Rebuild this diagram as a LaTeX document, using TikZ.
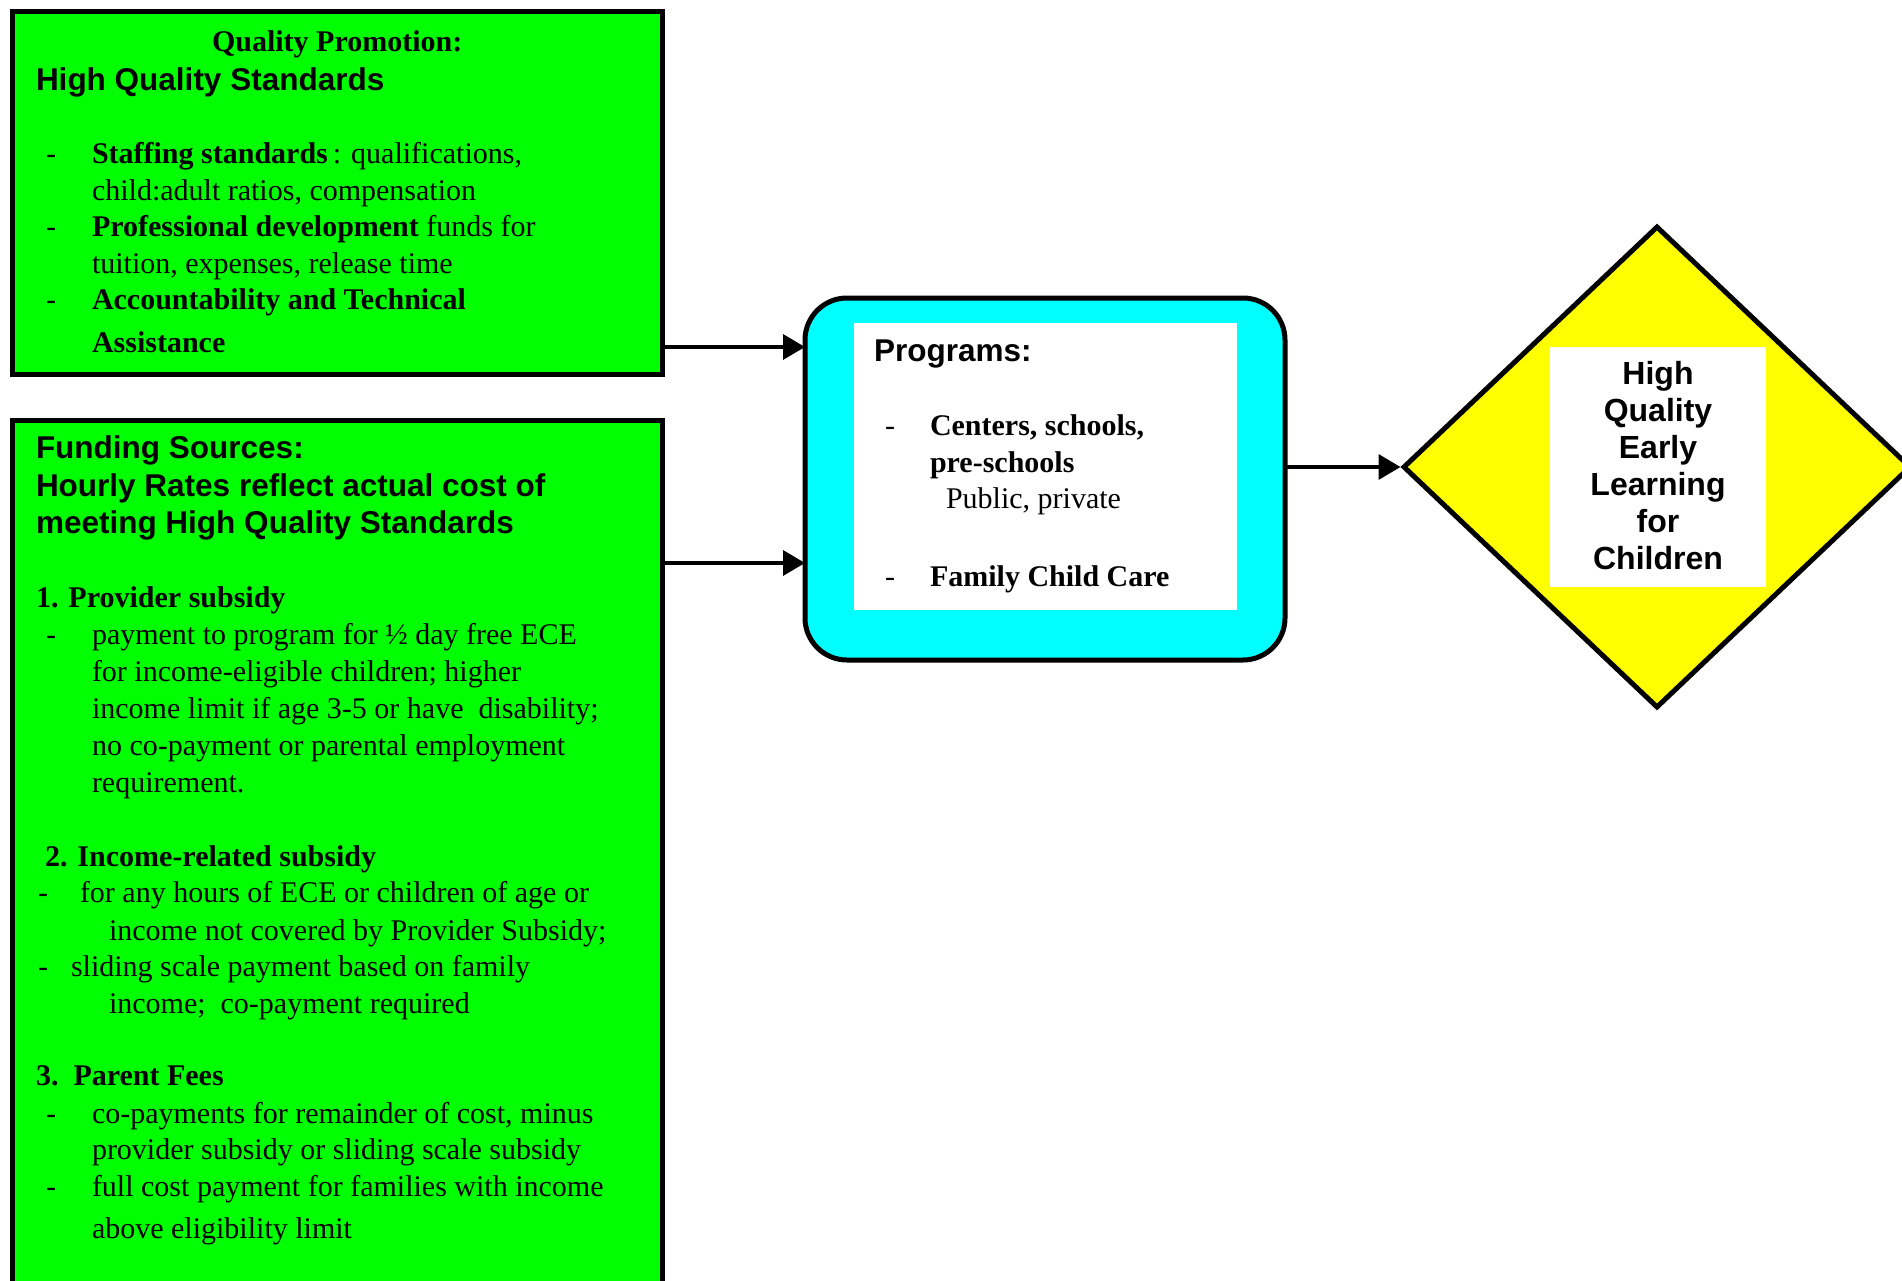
\documentclass[tikz,border=0pt]{standalone}
\usepackage{fontspec}
\setmainfont{Liberation Serif}
\newfontfamily\arialfont{Liberation Sans}
\usetikzlibrary{arrows.meta,shapes.geometric}
\definecolor{qgreen}{RGB}{0,255,0}
\definecolor{qcyan}{RGB}{0,255,255}
\definecolor{qyellow}{RGB}{255,255,0}
\begin{document}
\begin{tikzpicture}[x=1pt,y=-1pt,
  gbox/.style={draw=black, fill=qgreen, line width=5pt, inner sep=0pt, outer sep=0pt},
  wbox/.style={fill=white, draw=none, inner sep=0pt},
  tx/.style={anchor=base west, inner sep=0pt, outer sep=0pt, yshift=-1.5pt, font=\fontsize{30}{36}\selectfont},
  hd/.style={anchor=base west, inner sep=0pt, outer sep=0pt, yshift=-1.5pt, font=\arialfont\bfseries\fontsize{31.5}{38}\selectfont},
  dt/.style={anchor=base, inner sep=0pt, outer sep=0pt, yshift=-1.5pt, font=\arialfont\bfseries\fontsize{32}{38}\selectfont},
  arr/.style={line width=3.5pt, -{Triangle[length=22pt,width=25pt]}}]
\useasboundingbox (0,0) rectangle (1902,1281);
\clip (0,0) rectangle (1902,1281);

% --- Quality promotion box
\node[gbox, minimum width=650pt, minimum height=362pt] (qp) at (337,193) {};
\node[tx] (q0) at (212,50) {\textbf{Quality Promotion:}};
\node[hd] (q1) at (36,89) {High Quality Standards};
\node[tx] (qd1) at (46,162) {-};
\node[tx] (q2) at (92,162) {\textbf{Staffing standards}\,: qualifications,};
\node[tx] (q3) at (92,199) {child:adult ratios, compensation};
\node[tx] (qd2) at (46,235) {-};
\node[tx] (q4) at (92,235) {\textbf{Professional development} funds for};
\node[tx] (q5) at (92,272) {tuition, expenses, release time};
\node[tx] (qd3) at (46,308) {-};
\node[tx] (q6) at (92,308) {\textbf{Accountability and Technical}};
\node[tx] (q7) at (92,351) {\textbf{Assistance}};

% --- Funding sources box
\node[gbox, minimum width=650pt, minimum height=890pt] (fs) at (337,865) {};
\node[hd] (f0) at (36,457) {Funding Sources:};
\node[hd] (f1) at (36,495) {Hourly Rates reflect actual cost of};
\node[hd] (f2) at (36,532) {meeting High Quality Standards};
\node[tx] (f3) at (36,606) {\textbf{1. Provider subsidy}};
\node[tx] (fd1) at (46,643) {-};
\node[tx] (f4) at (92,643) {payment to program for ½ day free ECE};
\node[tx] (f5) at (92,680) {for income-eligible children; higher};
\node[tx] (f6) at (92,717) {income limit if age 3-5 or have\ \ disability;};
\node[tx] (f7) at (92,754) {no co-payment or parental employment};
\node[tx] (f8) at (92,791) {requirement.};
\node[tx] (f9) at (45,865) {\textbf{2. Income-related subsidy}};
\node[tx] (fd2) at (38,901) {-};
\node[tx] (f10) at (80,901) {for any hours of ECE or children of age or};
\node[tx] (f11) at (109,939) {income not covered by Provider Subsidy;};
\node[tx] (fd3) at (38,975) {-};
\node[tx] (f12) at (71,975) {sliding scale payment based on family};
\node[tx] (f13) at (109,1012) {income;\ \ co-payment required};
\node[tx] (f14) at (36,1084) {\textbf{3.\ \ Parent Fees}};
\node[tx] (fd4) at (46,1122) {-};
\node[tx] (f15) at (92,1122) {co-payments for remainder of cost, minus};
\node[tx] (f16) at (92,1158) {provider subsidy or sliding scale subsidy};
\node[tx] (fd5) at (46,1195) {-};
\node[tx] (f17) at (92,1195) {full cost payment for families with income};
\node[tx] (f18) at (92,1237) {above eligibility limit};

% --- Programs box
\node[draw=black, fill=qcyan, line width=5pt, rounded corners=42pt, inner sep=0pt, outer sep=0pt,
      minimum width=480pt, minimum height=362pt] (prog) at (1045,479) {};
\node[wbox, minimum width=383pt, minimum height=287pt] (progw) at (1045.5,466.5) {};
\node[hd] (p0) at (874,360) {Programs:};
\node[tx] (pd1) at (885,434) {-};
\node[tx] (p1) at (930,434) {\textbf{Centers, schools,}};
\node[tx] (p2) at (930,471) {\textbf{pre-schools}};
\node[tx] (p3) at (946,507) {Public, private};
\node[tx] (pd2) at (885,585) {-};
\node[tx] (p4) at (930,585) {\textbf{Family Child Care}};

% --- Diamond
\node[diamond, draw=black, fill=qyellow, line width=5pt, inner sep=0pt,
      minimum width=508pt, minimum height=482pt] (dia) at (1657,467) {};
\node[wbox, minimum width=216pt, minimum height=240pt] (diaw) at (1658,467) {};
\node[dt] (d1) at (1658,383) {High};
\node[dt] (d2) at (1658,420) {Quality};
\node[dt] (d3) at (1658,457) {Early};
\node[dt] (d4) at (1658,494) {Learning};
\node[dt] (d5) at (1658,531) {for};
\node[dt] (d6) at (1658,568) {Children};

% --- Connectors
\coordinate (ya) at (0,347);
\coordinate (yb) at (0,563);
\draw[arr] (qp.east |- ya) -- (prog.west |- ya);
\draw[arr] (fs.east |- yb) -- (prog.west |- yb);
\draw[arr] (prog.east |- dia.west) -- (dia.west);
\end{tikzpicture}
\end{document}
